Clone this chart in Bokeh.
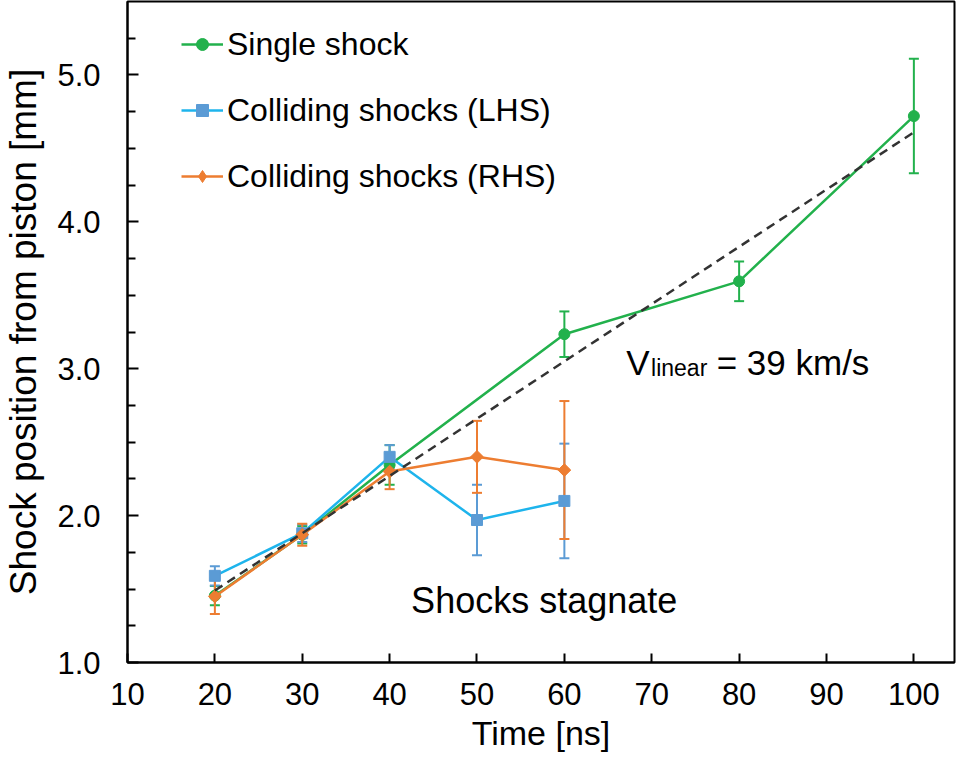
from bokeh.plotting import figure
from bokeh.models import (ColumnDataSource, Whisker, TeeHead, FixedTicker, Legend,
                          LegendItem, Range1d, CustomJSTickFormatter)
from bokeh.core.properties import value
from bokeh.embed import file_html
from bokeh.resources import INLINE

# ---------------- data ----------------
single_t = [20, 30, 40, 60, 80, 100]
single_pos = [1.455, 1.87, 2.345, 3.235, 3.595, 4.72]
single_err = [0.065, 0.06, 0.135, 0.155, 0.135, 0.39]

lhs_t = [20, 30, 40, 50, 60]
lhs_pos = [1.59, 1.88, 2.40, 1.97, 2.10]
lhs_err = [0.065, 0.06, 0.08, 0.24, 0.39]

rhs_t = [20, 30, 40, 50, 60]
rhs_pos = [1.45, 1.87, 2.30, 2.40, 2.31]
rhs_err = [0.12, 0.075, 0.12, 0.245, 0.47]

fit_t = [20, 100]
fit_pos = [1.49, 4.61]

x_ticks = [10, 20, 30, 40, 50, 60, 70, 80, 90, 100]
y_ticks = [1.0, 2.0, 3.0, 4.0, 5.0]
y_minor = [1.25, 1.5, 1.75, 2.25, 2.5, 2.75, 3.25, 3.5, 3.75, 4.25, 4.5, 4.75, 5.25]

labels = ["Single shock", "Colliding shocks (LHS)", "Colliding shocks (RHS)"]
x_title = "Time [ns]"
y_title = "Shock position from piston [mm]"

GREEN = "#22B14C"
BLUE_LINE = "#1EB4EC"
BLUE_MARK = "#5B9BD5"
ORANGE = "#ED7D31"
FONT = "Liberation Sans"

p = figure(width=956, height=754, x_range=Range1d(10, 104.65), y_range=Range1d(1.0, 5.5),
           output_backend="svg", toolbar_location=None,
           min_border_left=123, min_border_top=1, min_border_right=2, min_border_bottom=0)
p.grid.visible = False
p.outline_line_color = "black"
p.outline_line_width = 2
p.background_fill_color = "white"
p.border_fill_color = "white"


def src(t, y, e):
    return ColumnDataSource(dict(x=t, y=y, upper=[a + b for a, b in zip(y, e)],
                                 lower=[a - b for a, b in zip(y, e)]))


def add_series(t, y, e, line_color, mark_color, marker, size, angle=0.0):
    s = src(t, y, e)
    w = Whisker(base="x", upper="upper", lower="lower", source=s, dimension="height",
                line_color=mark_color, line_width=2, level="underlay",
                upper_head=TeeHead(size=10, line_color=mark_color, line_width=2),
                lower_head=TeeHead(size=10, line_color=mark_color, line_width=2))
    p.add_layout(w)
    lr = p.line("x", "y", source=s, line_color=line_color, line_width=2.5)
    sr = p.scatter("x", "y", source=s, marker=marker, size=size, angle=angle,
                   fill_color=mark_color, line_color=mark_color)
    return lr, sr, s


g = add_series(single_t, single_pos, single_err, GREEN, GREEN, "circle", 11)
b = add_series(lhs_t, lhs_pos, lhs_err, BLUE_LINE, BLUE_MARK, "square", 11)
o = add_series(rhs_t, rhs_pos, rhs_err, ORANGE, ORANGE, "square", 9, angle=0.785398)

# hidden diamond renderer on the same data, used only for the legend swatch
o_leg = p.scatter("x", "y", source=o[2], marker="diamond", size=13,
                  fill_color=ORANGE, line_color=ORANGE, visible=False)

p.line(fit_t, fit_pos, line_color="#333333", line_width=2.5, line_dash="9 6")

# annotations
p.text(x=[42.46], y=[1.425], text=["Shocks stagnate"], text_font=value(FONT),
       text_font_size=value("36px"), text_color="black", text_baseline="alphabetic",
       text_align="left")
p.text(x=[67.07], y=[3.044], text=["V"], text_font=value(FONT),
       text_font_size=value("35px"), text_color="black", text_baseline="alphabetic",
       text_align="left")
p.text(x=[69.92], y=[3.003], text=["linear"], text_font=value(FONT),
       text_font_size=value("23px"), text_color="black", text_baseline="alphabetic",
       text_align="left")
p.text(x=[77.43], y=[3.044], text=["= 39 km/s"], text_font=value(FONT),
       text_font_size=value("35px"), text_color="black", text_baseline="alphabetic",
       text_align="left")

# axes
for ax in (p.xaxis[0], p.yaxis[0]):
    ax.axis_line_width = 2
    ax.axis_line_color = "black"
    ax.major_tick_line_color = "black"
    ax.major_tick_line_width = 2
    ax.major_tick_out = 0
    ax.minor_tick_out = 0
    ax.major_label_text_font = FONT
    ax.major_label_text_font_size = "31px"
    ax.major_label_text_color = "black"
    ax.axis_label_text_font = FONT
    ax.axis_label_text_font_style = "normal"
    ax.axis_label_text_color = "black"

p.xaxis.ticker = FixedTicker(ticks=x_ticks)
p.xaxis.major_tick_in = 9
p.xaxis.minor_tick_line_color = None
p.xaxis.major_label_standoff = 20
p.xaxis.axis_label = x_title
p.xaxis.axis_label_text_font_size = "34px"
p.xaxis.axis_label_standoff = 6

p.yaxis.ticker = FixedTicker(ticks=y_ticks, minor_ticks=y_minor)
p.yaxis.formatter = CustomJSTickFormatter(code="return tick.toFixed(1);")
p.yaxis.major_tick_in = 11
p.yaxis.minor_tick_in = 8
p.yaxis.minor_tick_line_color = "black"
p.yaxis.minor_tick_line_width = 2
p.yaxis.major_label_standoff = 27
p.yaxis.axis_label = y_title
p.yaxis.axis_label_text_font_size = "37px"
p.yaxis.axis_label_standoff = 10

legend = Legend(items=[LegendItem(label=labels[0], renderers=[g[0], g[1]]),
                       LegendItem(label=labels[1], renderers=[b[0], b[1]]),
                       LegendItem(label=labels[2], renderers=[o[0], o_leg])],
                location=(54, 466), orientation="vertical",
                label_text_font=FONT, label_text_font_size="32px", label_text_color="black",
                glyph_width=42, glyph_height=30, label_height=40, label_standoff=4,
                spacing=26, padding=0, margin=0, border_line_color=None,
                background_fill_alpha=0)
p.add_layout(legend)

open("out.html", "w").write(file_html(p, INLINE))
